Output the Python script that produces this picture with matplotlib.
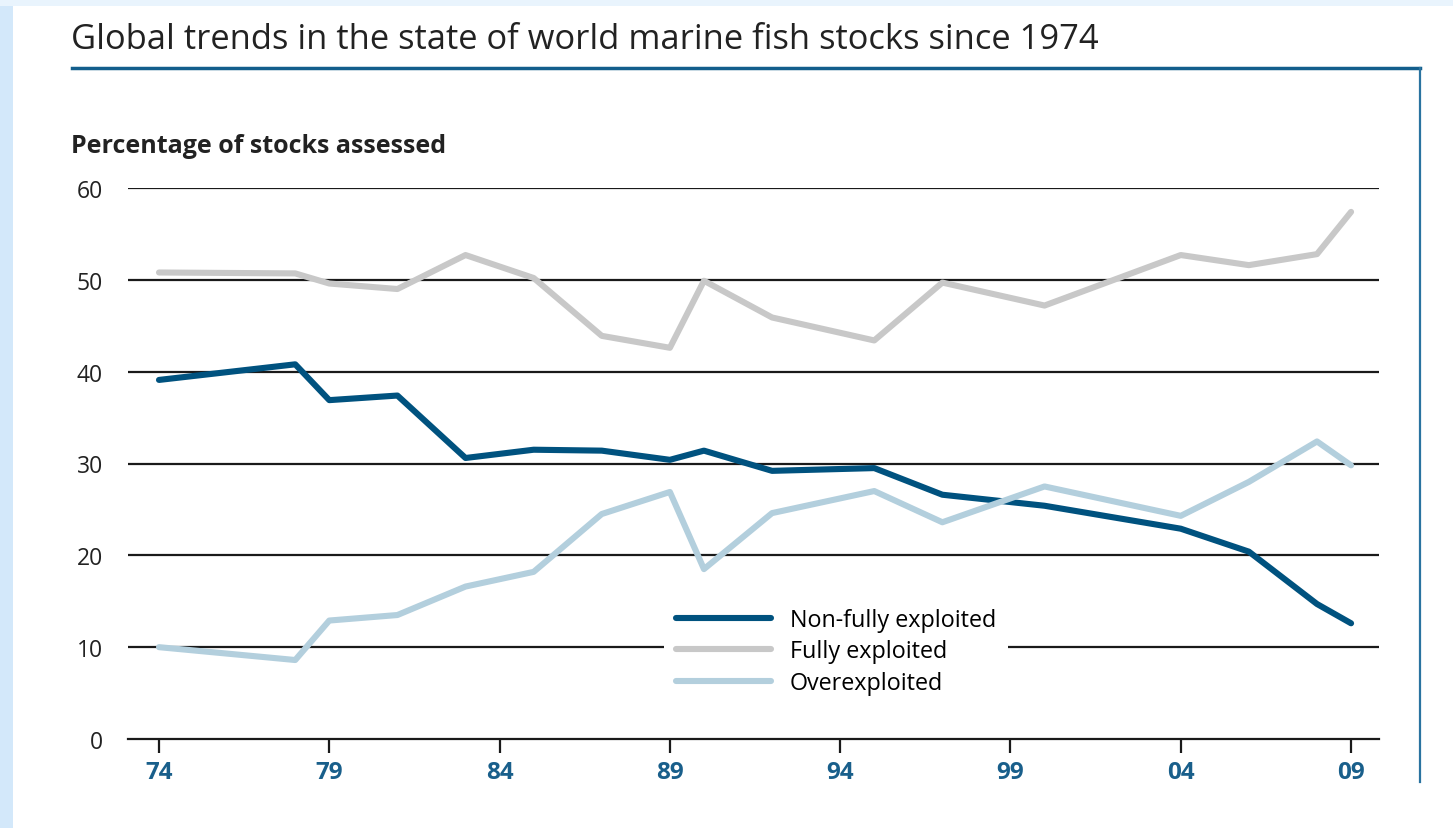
import matplotlib
matplotlib.use("Agg")
import matplotlib.pyplot as plt
from matplotlib.patches import Rectangle
from matplotlib.lines import Line2D

plt.rcParams['font.family'] = ['Open Sans', 'DejaVu Sans']

# Datos (porcentaje de poblaciones evaluadas)
anios = [1974, 1978, 1979, 1981, 1983, 1985, 1987, 1989, 1990, 1992,
         1995, 1997, 2000, 2004, 2006, 2008, 2009]
no_plenamente = [39.1, 40.8, 36.9, 37.4, 30.6, 31.5, 31.4, 30.4, 31.4, 29.2,
                 29.5, 26.6, 25.4, 22.9, 20.4, 14.7, 12.6]
plenamente = [50.8, 50.7, 49.6, 49.0, 52.7, 50.2, 43.9, 42.6, 49.9, 45.9,
              43.4, 49.7, 47.2, 52.7, 51.6, 52.8, 57.4]
sobreexplotadas = [10.0, 8.6, 12.9, 13.5, 16.6, 18.2, 24.5, 26.9, 18.5, 24.6,
                   27.0, 23.6, 27.5, 24.3, 28.0, 32.4, 29.8]

ticks_x = [1974, 1979, 1984, 1989, 1994, 1999, 2004, 2009]
etiquetas_x = ['74', '79', '84', '89', '94', '99', '04', '09']
ticks_y = [0, 10, 20, 30, 40, 50, 60]

W, H = 1453, 829
fig = plt.figure(figsize=(W / 100, H / 100), dpi=100)
fig.patch.set_facecolor('white')

# Fondo: franjas celestes a la izquierda y arriba
fig.patches.append(Rectangle((0, 0), 13 / W, 1, transform=fig.transFigure,
                             facecolor='#d3e8fa', edgecolor='none', zorder=0))
fig.patches.append(Rectangle((0, 1 - 7 / H), 1, 7 / H, transform=fig.transFigure,
                             facecolor='#e9f4fd', edgecolor='none', zorder=0))

# Linea azul bajo el titulo y linea vertical a la derecha
fig.add_artist(Line2D([72 / W, 1420 / W], [1 - 69 / H, 1 - 69 / H],
                      transform=fig.transFigure, color='#135e8c', lw=2.5))
fig.add_artist(Line2D([1420 / W, 1420 / W], [1 - 69 / H, 1 - 783 / H],
                      transform=fig.transFigure, color='#2a73a0', lw=1.6))

fig.text(71 / W, 1 - 49 / H, 'Global trends in the state of world marine fish stocks since 1974',
         fontsize=24.8, color='#222222', va='baseline', ha='left')
fig.text(71 / W, 1 - 153 / H, 'Percentage of stocks assessed',
         fontsize=18, fontweight='bold', color='#222222', va='baseline', ha='left')

ax = fig.add_axes([128 / W, 1 - 740 / H, (1379 - 128) / W, (740 - 189) / H])
ax.set_xlim(1973.09, 2009.82)
ax.set_ylim(0, 60)

for v in ticks_y[1:]:
    ax.axhline(v, color='#1a1a1a', lw=1.6, zorder=1)

ax.plot(anios, no_plenamente, color='#00527f', lw=4.4, label='Non-fully exploited',
        solid_capstyle='round', zorder=3)
ax.plot(anios, plenamente, color='#c8c8c8', lw=4.4, label='Fully exploited',
        solid_capstyle='round', zorder=3)
ax.plot(anios, sobreexplotadas, color='#b3cfdd', lw=4.4, label='Overexploited',
        solid_capstyle='round', zorder=3)

for s in ['top', 'right', 'left']:
    ax.spines[s].set_visible(False)
ax.spines['bottom'].set_color('#1a1a1a')
ax.spines['bottom'].set_linewidth(1.6)

ax.set_xticks(ticks_x)
ax.set_xticklabels(etiquetas_x, fontsize=17.5, fontweight='bold', color='#195f8b')
ax.set_yticks(ticks_y)
ax.set_yticklabels([str(v) for v in ticks_y], fontsize=16.5, color='#222222')
ax.tick_params(axis='x', direction='out', length=10, width=1.6, color='#1a1a1a', pad=5)
ax.tick_params(axis='y', length=0, pad=18)

leg = ax.legend(loc='upper left',
                bbox_to_anchor=((664 - 128) / (1379 - 128), (740 - 597) / (740 - 189)),
                borderaxespad=0, frameon=True, fancybox=False, framealpha=1,
                edgecolor='white', fontsize=16.8, handlelength=4.1, handletextpad=0.8,
                labelspacing=0.33, borderpad=0.5)
leg.get_frame().set_linewidth(0)
leg.set_zorder(2)

fig.savefig('out.png', dpi=100, facecolor='white')
